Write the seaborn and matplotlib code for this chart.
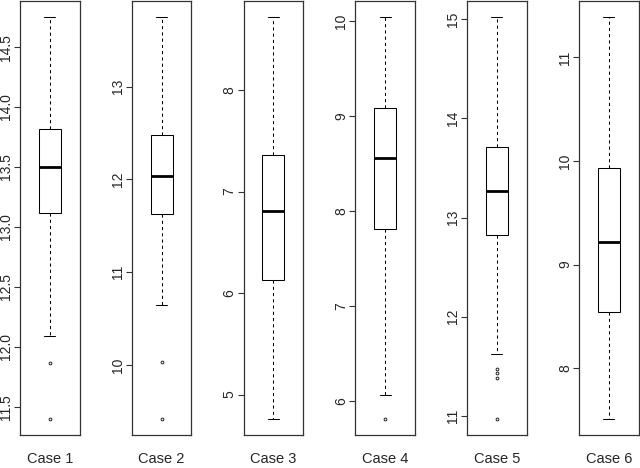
import matplotlib
matplotlib.use("Agg")
import matplotlib.pyplot as plt
import seaborn as sns

cases = ["Case 1", "Case 2", "Case 3", "Case 4", "Case 5", "Case 6"]

# box summaries
lower_whisker = [12.09, 10.65, 4.76, 6.06, 11.62, 7.51]
q1 = [13.12, 11.63, 6.13, 7.81, 12.82, 8.54]
median = [13.50, 12.04, 6.81, 8.56, 13.27, 9.22]
q3 = [13.82, 12.48, 7.36, 9.08, 13.71, 9.93]
upper_whisker = [14.75, 13.75, 8.72, 10.04, 15.02, 11.39]
outliers = [[11.87, 11.40], [10.03, 9.42], [], [5.81], [11.47, 11.43, 11.38, 10.97], []]

yticks = [
    [11.5, 12.0, 12.5, 13.0, 13.5, 14.0, 14.5],
    [10, 11, 12, 13],
    [5, 6, 7, 8],
    [6, 7, 8, 9, 10],
    [11, 12, 13, 14, 15],
    [8, 9, 10, 11],
]


def sample(i, k=20):
    # seaborn wants raw values; repeat each quartile so the percentiles land exactly on it
    return (outliers[i] + [lower_whisker[i]] + [q1[i]] * k + [median[i]] * k
            + [q3[i]] * k + [upper_whisker[i]])


sns.set_style("ticks")
plt.rcParams["font.family"] = ["Liberation Sans", "DejaVu Sans"]

fig, axes = plt.subplots(1, 6, figsize=(6.4, 4.68), dpi=100)
fig.subplots_adjust(left=20 / 640, right=638.5 / 640, bottom=1 - 435 / 468,
                    top=1 - 1 / 468, wspace=0.877)

for i, ax in enumerate(axes):
    sns.boxplot(y=sample(i), ax=ax, width=0.4, color="white", linecolor="black",
                linewidth=0.75,
                whiskerprops={"linestyle": (0, (3, 3))},
                medianprops={"linewidth": 2.0},
                flierprops={"marker": "o", "markersize": 2.0,
                            "markerfacecolor": "none", "markeredgecolor": "#222222",
                            "markeredgewidth": 0.7})

    lo = min(outliers[i] + [lower_whisker[i]])
    hi = upper_whisker[i]
    r = hi - lo
    ax.set_ylim(lo - 0.04 * r, hi + 0.04 * r)
    ax.set_xlim(-0.54, 0.54)

    ax.set_xticks([])
    ax.set_yticks(yticks[i])
    labels = [f"{t:.1f}" if isinstance(t, float) else str(t) for t in yticks[i]]
    ax.set_yticklabels(labels, rotation=90, va="center")
    ax.tick_params(axis="y", length=4, width=0.8, pad=1, labelsize=10, color="#333333")
    ax.set_ylabel("")
    ax.set_xlabel(cases[i], fontsize=10.5, labelpad=12.5)

    for s in ax.spines.values():
        s.set_visible(True)
        s.set_color("#333333")
        s.set_linewidth(0.9)

fig.savefig("out.png", dpi=100)
